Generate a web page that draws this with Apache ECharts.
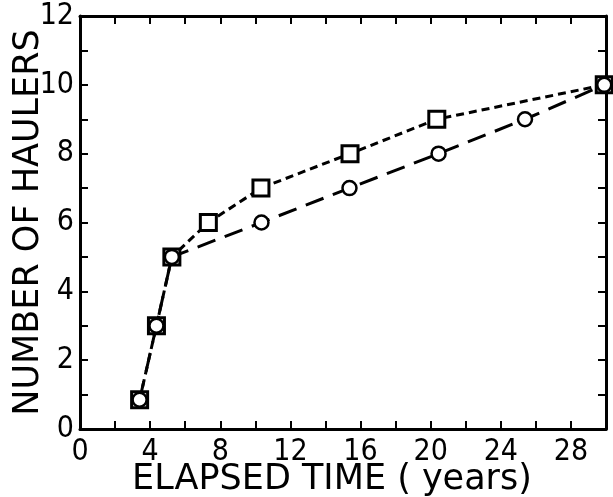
<!DOCTYPE html>
<html>
<head>
<meta charset="utf-8">
<script src="https://cdn.jsdelivr.net/npm/echarts@6/dist/echarts.min.js"></script>
<style>
html,body{margin:0;padding:0;background:#fff;}
#chart{width:613px;height:497px;}
</style>
</head>
<body>
<div id="chart"></div>
<script>
// values: [years, haulers]
var squarePoints = [[3.4, 0.85], [4.36, 3], [5.24, 5], [7.32, 6], [10.32, 7], [15.4, 8], [20.35, 9], [29.9, 10]];
var circlePoints = [[3.4, 0.85], [4.36, 3], [5.24, 5], [10.35, 6], [15.37, 7], [20.45, 8], [25.38, 9], [29.9, 10]];
var xTickLabels = [0, 4, 8, 12, 16, 20, 24, 28];
var yTickLabels = [0, 2, 4, 6, 8, 10, 12];

var titleFont = 'DejaVu Sans';
var tickFont = '"Liberation Sans Narrow", "DejaVu Sans Condensed", "DejaVu Sans"';
var ink = '#000';

// frame axis with ticks pointing into the plot
function tickAxis(extra) {
    var a = {
        axisLine: {show: true, onZero: false, lineStyle: {color: ink, width: 3}},
        axisTick: {show: true, inside: true, length: 8, lineStyle: {color: ink, width: 2}},
        splitLine: {show: false},
        axisLabel: {show: false},
        nameMoveOverlap: false
    };
    for (var k in extra) a[k] = extra[k];
    return a;
}

var myChart = echarts.init(document.getElementById('chart'));
var option = {
    animation: false,
    backgroundColor: '#fff',
    grid: {left: 80, right: 7, top: 16, bottom: 68, outerBoundsMode: 'none', containLabel: false},
    xAxis: [
        tickAxis({
            type: 'value', min: 0, max: 30, interval: 2,
            name: 'ELAPSED TIME ( years)', nameLocation: 'middle', nameGap: 33,
            nameTextStyle: {color: ink, fontFamily: titleFont, fontSize: 35, padding: [0, 22, 0, 0]},
            axisLabel: {
                show: true, color: ink, fontFamily: tickFont, fontSize: 30, margin: 8,
                formatter: function (v) { return xTickLabels.indexOf(v) >= 0 ? String(v) : ''; }
            }
        }),
        tickAxis({type: 'value', position: 'top', min: 0, max: 30, interval: 2})
    ],
    yAxis: [
        tickAxis({
            type: 'value', min: 0, max: 12, interval: 1,
            name: 'NUMBER OF HAULERS', nameLocation: 'middle', nameGap: 34,
            nameTextStyle: {color: ink, fontFamily: titleFont, fontSize: 35},
            axisLabel: {
                show: true, color: ink, fontFamily: tickFont, fontSize: 30, margin: 6,
                formatter: function (v) { return yTickLabels.indexOf(v) >= 0 ? String(v) : ''; }
            }
        }),
        tickAxis({type: 'value', position: 'right', min: 0, max: 12, interval: 1})
    ],
    series: [
        {
            name: 'circles',
            type: 'line',
            data: circlePoints,
            symbol: 'circle',
            symbolSize: 14,
            itemStyle: {color: '#fff', borderColor: ink, borderWidth: 2.5},
            lineStyle: {color: ink, width: 3, type: [19, 10]},
            z: 2
        },
        {
            name: 'squares',
            type: 'line',
            data: squarePoints,
            symbol: 'rect',
            symbolSize: 16,
            itemStyle: {color: '#fff', borderColor: ink, borderWidth: 3},
            lineStyle: {color: ink, width: 3, type: [8, 5]},
            z: 1
        }
    ]
};
myChart.setOption(option);
</script>
</body>
</html>
